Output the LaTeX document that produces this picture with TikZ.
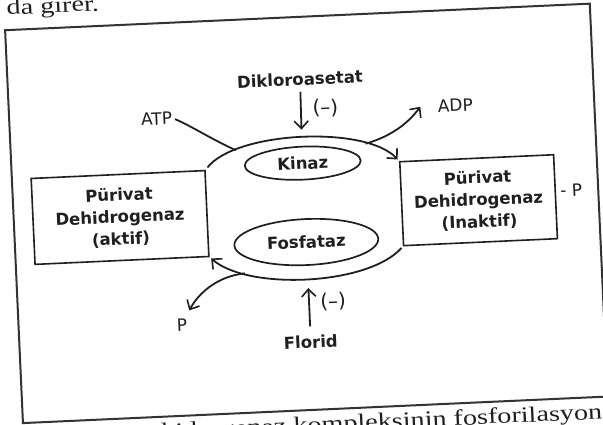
\documentclass[tikz,border=0pt]{standalone}
\usepackage{fontspec}
\setmainfont{Liberation Serif}
\newfontfamily\diagfont{DejaVu Sans}
\usetikzlibrary{arrows.meta,shapes.geometric}

\begin{document}
\begin{tikzpicture}[x=1pt,y=-1pt,
  frame/.style={draw=black!80, line width=2pt},
  curve/.style={draw=black!88, line width=1.8pt},
  barb/.style={-{Straight Barb[length=7.5pt,width=14pt,line width=1.6pt]}},
  pagetext/.style={font=\fontsize{22}{26}\selectfont, text=black!88, inner sep=0pt, xscale=1.28},
  lbl/.style={font=\diagfont\fontsize{17}{20}\selectfont, text=black!88, inner sep=0pt},
  sgn/.style={font=\diagfont\fontsize{20}{22}\selectfont, text=black!88, inner sep=0pt},
  blbl/.style={font=\diagfont\bfseries\fontsize{16.5}{22}\selectfont, text=black!88, inner sep=0pt},
  pdh/.style={blbl, draw=black!88, line width=1.6pt, rectangle, align=center, outer sep=0pt},
  enz/.style={blbl, draw=black!88, line width=1.7pt, ellipse, outer sep=0pt}
]
\useasboundingbox (0,0) rectangle (603,425);
\fill[white] (0,0) rectangle (603,425);

\begin{scope}[rotate around={2.6:(307,213)}, every node/.append style={transform shape}]
  % page text above and below the figure
  \node[pagetext, anchor=base west] (pg1) at (16,1.5) {da girer.};
  \node[pagetext, anchor=base east] (pg2) at (593,432) {Dehidrogenaz kompleksinin fosforilasyon};

  % figure frame
  \draw[frame] (13.7,16.7) rectangle (599,410);

  % the two forms of the complex
  \node[pdh, minimum width=174pt, minimum height=86pt] (pdha) at (120,209)
    {Pürivat\\Dehidrogenaz\\(aktif)};
  \node[pdh, minimum width=154pt, minimum height=84pt] (pdhi) at (479,208)
    {Pürivat\\Dehidrogenaz\\(Inaktif)};
  \node[lbl, anchor=west] (pi) at (561,202) {- P};

  % enzymes
  \node[enz, minimum width=116pt, minimum height=33pt, inner sep=0pt] (kinaz) at (305,163) {Kinaz};
  \node[enz, minimum width=144pt, minimum height=46pt, inner sep=0pt] (fosf) at (305,242) {Fosfataz};

  % side labels
  \node[lbl] (atp) at (161,112) {ATP};
  \node[lbl] (adp) at (460,112) {ADP};
  \node[lbl] (pfree) at (177,319) {P};
  \node[blbl] (dk) at (306,79) {Dikloroasetat};
  \node[blbl] (florid) at (305,342) {Florid};
  \node[sgn] (inh1) at (330,109) {(–)};
  \node[sgn] (inh2) at (329,303) {(–)};

  % free ends of the side arrows
  \coordinate (adptip) at (425,112);
  \coordinate (ptip) at (185,305);

  % phosphorylation (upper) and dephosphorylation (lower) arcs
  \draw[curve, barb, shorten <=4pt, shorten >=3pt] (pdha.north east)
    .. controls (240,128) and (370,128) .. (pdhi.north west)
    coordinate[pos=0.21] (jatp) coordinate[pos=0.78] (jadp);
  \draw[curve, barb, shorten <=3pt, shorten >=3pt] (pdhi.south west)
    .. controls (365,288) and (245,288) .. (pdha.south east)
    coordinate[pos=0.78] (jp);

  % ATP in, ADP and P out
  \draw[curve, shorten <=3pt] (atp.east) .. controls (194,120) and (215,135) .. (jatp);
  \draw[curve, barb] (jadp) .. controls (395,140) and (412,128) .. (adptip);
  \draw[curve, barb] (jp) .. controls (215,272) and (195,288) .. (ptip);

  % inhibitors
  \draw[curve, barb, shorten <=6pt, shorten >=17pt] (dk.south) -- (kinaz.north);
  \draw[curve, barb, shorten <=9pt, shorten >=23pt] (florid.north) -- (fosf.south);
\end{scope}
\end{tikzpicture}
\end{document}
